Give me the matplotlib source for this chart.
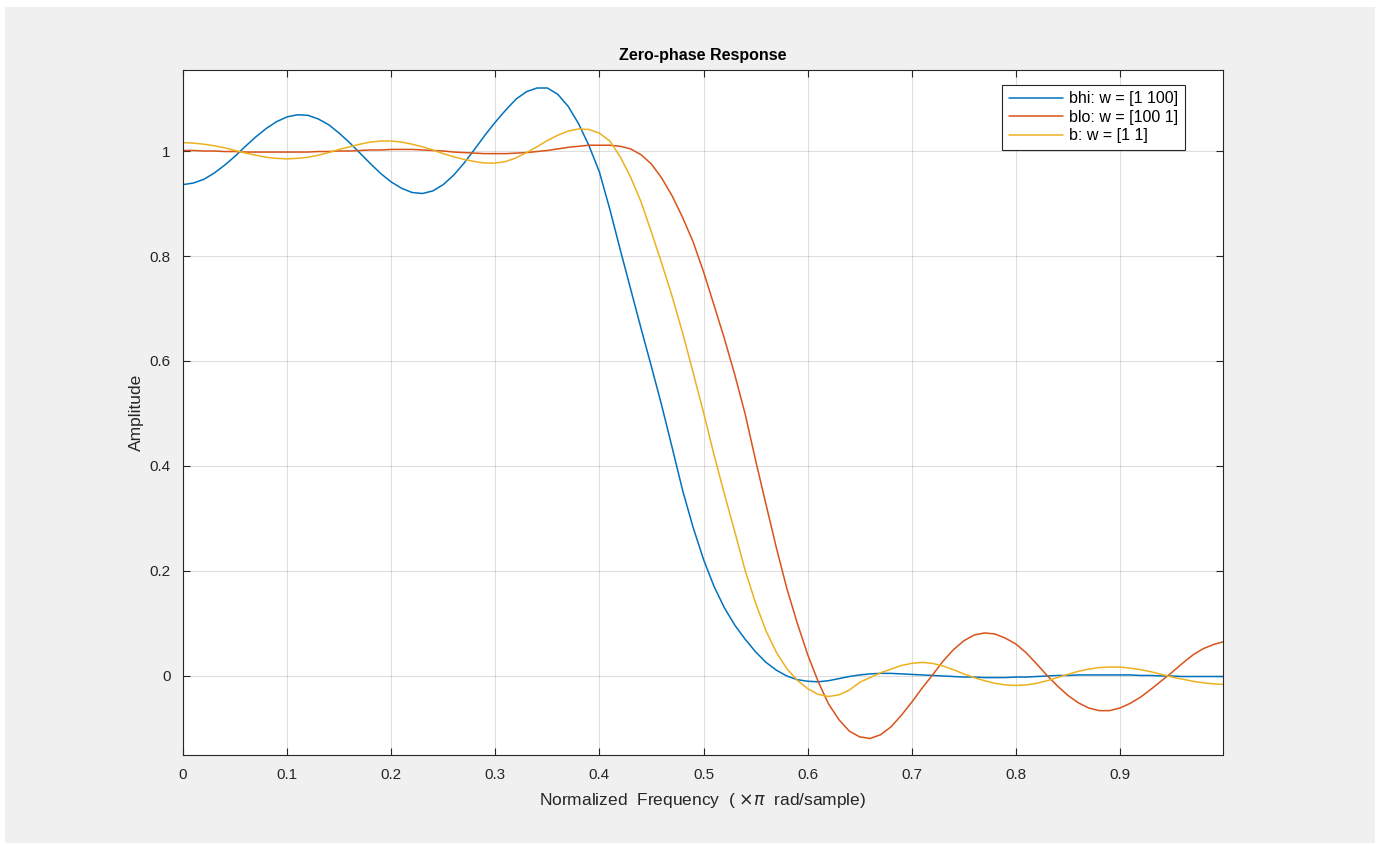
import matplotlib
matplotlib.use("Agg")
import matplotlib.pyplot as plt
from matplotlib.patches import Rectangle

# ---------------- data ----------------
freq = [0.00, 0.01, 0.02, 0.03, 0.04, 0.05, 0.06, 0.07, 0.08, 0.09,
        0.10, 0.11, 0.12, 0.13, 0.14, 0.15, 0.16, 0.17, 0.18, 0.19,
        0.20, 0.21, 0.22, 0.23, 0.24, 0.25, 0.26, 0.27, 0.28, 0.29,
        0.30, 0.31, 0.32, 0.33, 0.34, 0.35, 0.36, 0.37, 0.38, 0.39,
        0.40, 0.41, 0.42, 0.43, 0.44, 0.45, 0.46, 0.47, 0.48, 0.49,
        0.50, 0.51, 0.52, 0.53, 0.54, 0.55, 0.56, 0.57, 0.58, 0.59,
        0.60, 0.61, 0.62, 0.63, 0.64, 0.65, 0.66, 0.67, 0.68, 0.69,
        0.70, 0.71, 0.72, 0.73, 0.74, 0.75, 0.76, 0.77, 0.78, 0.79,
        0.80, 0.81, 0.82, 0.83, 0.84, 0.85, 0.86, 0.87, 0.88, 0.89,
        0.90, 0.91, 0.92, 0.93, 0.94, 0.95, 0.96, 0.97, 0.98, 0.99,
        0.999]

bhi = [0.936, 0.939, 0.946, 0.958, 0.973, 0.990, 1.009, 1.027, 1.043, 1.056,
       1.065, 1.069, 1.068, 1.061, 1.050, 1.034, 1.016, 0.996, 0.976, 0.957,
       0.941, 0.929, 0.921, 0.919, 0.924, 0.936, 0.954, 0.977, 1.003, 1.030,
       1.055, 1.078, 1.099, 1.113, 1.120, 1.120, 1.108, 1.085, 1.052, 1.010,
       0.960, 0.889, 0.812, 0.737, 0.662, 0.589, 0.514, 0.434, 0.353, 0.283,
       0.222, 0.171, 0.130, 0.097, 0.070, 0.046, 0.026, 0.011, 0.000, -0.007,
       -0.010, -0.011, -0.009, -0.005, -0.001, 0.002, 0.004, 0.005, 0.005, 0.004,
       0.003, 0.002, 0.001, 0.000, -0.001, -0.002, -0.002, -0.003, -0.003, -0.003,
       -0.002, -0.002, -0.001, 0.000, 0.001, 0.001, 0.002, 0.002, 0.002, 0.002,
       0.002, 0.002, 0.001, 0.001, 0.000, 0.000, -0.001, -0.001, -0.001, -0.001,
       -0.001]

blo = [1.001, 1.001, 1.000, 1.000, 0.999, 0.999, 0.998, 0.998, 0.998, 0.998,
       0.998, 0.998, 0.998, 0.999, 0.999, 1.000, 1.000, 1.001, 1.002, 1.002,
       1.003, 1.003, 1.003, 1.002, 1.001, 1.000, 0.998, 0.997, 0.996, 0.995,
       0.995, 0.995, 0.996, 0.997, 0.999, 1.001, 1.004, 1.007, 1.009, 1.011,
       1.011, 1.011, 1.009, 1.004, 0.993, 0.975, 0.948, 0.914, 0.873, 0.827,
       0.770, 0.707, 0.643, 0.574, 0.499, 0.411, 0.327, 0.244, 0.167, 0.101,
       0.041, -0.010, -0.053, -0.083, -0.105, -0.116, -0.119, -0.112, -0.097, -0.075,
       -0.050, -0.023, 0.002, 0.028, 0.050, 0.067, 0.078, 0.082, 0.080, 0.072,
       0.061, 0.044, 0.023, 0.001, -0.019, -0.037, -0.051, -0.061, -0.066, -0.066,
       -0.061, -0.052, -0.040, -0.025, -0.009, 0.007, 0.024, 0.040, 0.052, 0.060,
       0.065]

b = [1.016, 1.015, 1.013, 1.010, 1.006, 1.001, 0.996, 0.992, 0.988, 0.986,
     0.985, 0.986, 0.988, 0.992, 0.997, 1.003, 1.008, 1.013, 1.017, 1.019,
     1.019, 1.017, 1.013, 1.008, 1.002, 0.995, 0.989, 0.984, 0.980, 0.977,
     0.977, 0.980, 0.987, 0.997, 1.008, 1.020, 1.030, 1.038, 1.042, 1.041,
     1.034, 1.019, 0.989, 0.950, 0.903, 0.845, 0.785, 0.722, 0.653, 0.578,
     0.502, 0.422, 0.347, 0.275, 0.201, 0.139, 0.086, 0.045, 0.014, -0.008,
     -0.024, -0.035, -0.039, -0.036, -0.027, -0.012, -0.003, 0.006, 0.013, 0.020,
     0.024, 0.026, 0.024, 0.019, 0.012, 0.004, -0.003, -0.009, -0.014, -0.017,
     -0.018, -0.017, -0.014, -0.009, -0.003, 0.003, 0.009, 0.013, 0.016, 0.017,
     0.017, 0.015, 0.012, 0.008, 0.003, -0.002, -0.006, -0.010, -0.013, -0.015,
     -0.016]

series_labels = ["bhi: w = [1 100]", "blo: w = [100 1]", "b: w = [1 1]"]
x_ticks = [0, 0.1, 0.2, 0.3, 0.4, 0.5, 0.6, 0.7, 0.8, 0.9]
x_ticklabels = ["0", "0.1", "0.2", "0.3", "0.4", "0.5", "0.6", "0.7", "0.8", "0.9"]
y_ticks = [0, 0.2, 0.4, 0.6, 0.8, 1.0]
y_ticklabels = ["0", "0.2", "0.4", "0.6", "0.8", "1"]

# ---------------- styling ----------------
plt.rcParams['font.family'] = ['Liberation Sans', 'DejaVu Sans']
W, H = 1380, 846
fig = plt.figure(figsize=(W / 100, H / 100), dpi=100, facecolor='white')
fig.patches.append(Rectangle((5 / W, 3 / H), 1370 / W, 836 / H,
                             transform=fig.transFigure, facecolor='#f0f0f0',
                             edgecolor='none', zorder=-10))

ax_l, ax_r, ax_t, ax_b = 183, 1223, 70, 755
ax = fig.add_axes([ax_l / W, 1 - ax_b / H, (ax_r - ax_l) / W, (ax_b - ax_t) / H])
ax.set_facecolor('white')

colors = ['#0072BD', '#D95319', '#EDB120']
for ys, lab, c in zip([bhi, blo, b], series_labels, colors):
    ax.plot(freq, ys, color=c, lw=1.1, label=lab, solid_capstyle='round',
            solid_joinstyle='round')

ax.set_xlim(0, 0.999)
ax.set_ylim(-0.1505, 1.1543)
ax.set_xticks(x_ticks)
ax.set_xticklabels(x_ticklabels)
ax.set_yticks(y_ticks)
ax.set_yticklabels(y_ticklabels)
ax.grid(True, color='#262626', alpha=0.15, lw=0.8)
ax.set_axisbelow(True)
ax.tick_params(axis='both', direction='in', length=5, width=0.8, colors='#262626',
               labelsize=11, top=True, right=True, pad=9)
for s in ax.spines.values():
    s.set_color('#262626')
    s.set_linewidth(0.8)

ax.set_title('Zero-phase Response', fontsize=11.5, fontweight='bold', color='black', pad=7)
ax.set_xlabel('Normalized  Frequency  ( $\\times\\pi$  rad/sample)', fontsize=12.5,
              color='#262626', labelpad=7)
ax.set_ylabel('Amplitude', fontsize=12.5, color='#262626', labelpad=4)

leg = ax.legend(loc='upper right',
                bbox_to_anchor=((1185 - ax_l) / (ax_r - ax_l), (ax_b - 85) / (ax_b - ax_t)),
                borderaxespad=0, fancybox=False, framealpha=1, edgecolor='#262626',
                fontsize=11.5, handlelength=3.4, handletextpad=0.4, labelspacing=0.22,
                borderpad=0.4)
leg.get_frame().set_linewidth(0.8)

fig.savefig('out.png', dpi=100, facecolor=fig.get_facecolor())
